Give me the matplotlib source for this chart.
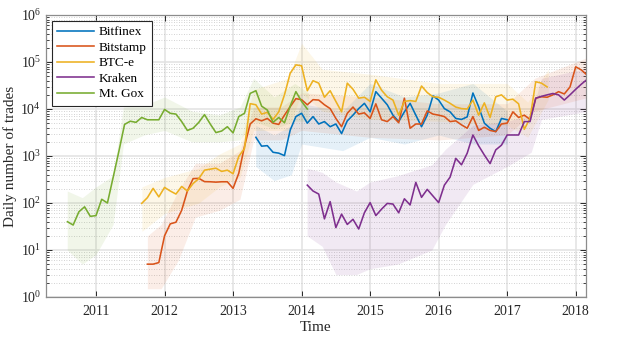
import numpy as np
import matplotlib
matplotlib.use('Agg')
import matplotlib.pyplot as plt
from matplotlib.ticker import NullFormatter, FixedLocator, LogFormatterMathtext

plt.rcParams['font.family'] = ['Liberation Serif', 'DejaVu Serif']
plt.rcParams['mathtext.fontset'] = 'custom'
plt.rcParams['mathtext.rm'] = 'Liberation Serif'
plt.rcParams['mathtext.it'] = 'Liberation Serif:italic'

# Monthly averages of daily trades (first value = start month)
bitfinex_start = (2013, 5)
bitfinex = [2500, 1620, 1660, 1200, 1150, 1020, 3550, 6900,
            8100, 5000, 6900, 4800, 5400, 4200, 4800, 3000, 5600, 7400, 10200, 13200,
            8700, 23400, 17000, 12300, 7400, 5400, 8700, 13200, 7400, 4200, 7400, 19000,
            15500, 10200, 8700, 6300, 6000, 6800, 21900, 11200, 5000, 3900, 3300, 6300,
            5900]

bitstamp_start = (2011, 10)
bitstamp = [5.0, 5.0, 5.4,
            20, 36, 39, 70, 180, 330, 335, 285, 283, 278, 283, 283,
            205, 430, 1600, 4800, 6200, 5600, 6300, 5000, 4700, 7400, 11200, 16600,
            15800, 12300, 15800, 15500, 12300, 10200, 6300, 4200, 8100, 11000, 7800, 8300,
            6300, 12900, 5900, 5400, 6900, 5100, 17000, 3900, 4800, 4800, 9100, 7800,
            7400, 6900, 5400, 5600, 4600, 3900, 6900, 3500, 4100, 3500, 3300, 4800,
            5000, 8700, 6600, 7400, 6000, 17000, 18200, 17800, 20000, 23400, 20900, 29500,
            79000, 67600, 52500]

btce_start = (2011, 9)
btce = [98, 130, 205, 135,
        215, 180, 155, 225, 180, 260, 330, 500, 525, 550, 470, 500,
        420, 980, 1450, 13000, 12300, 7800, 8500, 6000, 8700, 20000, 57500, 87000,
        83000, 24500, 40000, 35500, 17800, 24500, 14500, 8700, 35500, 26300, 17000, 17800,
        14500, 41700, 25100, 18200, 15500, 7400, 14500, 15100, 14500, 30900, 22400, 18200,
        17800, 15500, 13200, 11000, 10200, 10000, 15500, 7400, 13500, 6600, 18200, 20000,
        15500, 16200, 12900, 3700, 6300, 38000, 35500, 29500]

kraken_start = (2014, 2)
kraken = [240, 180, 155, 46, 107, 30, 58, 35, 45, 28, 62,
          102, 54, 74, 98, 95, 62, 123, 91, 275, 132, 195, 141,
          102, 240, 355, 890, 650, 1150, 2800, 1650, 1050, 690, 1350, 1700,
          2800, 2800, 2800, 5400, 5400, 17000, 18600, 20000, 21400, 20000, 15500, 20000,
          26300, 33900, 42700]

mtgox_start = (2010, 8)
mtgox = [40, 34, 65, 83, 52,
         54, 120, 100, 350, 1250, 4700, 5500, 5200, 6600, 5900, 5900, 5900,
         9800, 8100, 7800, 5400, 3500, 3900, 5200, 7600, 4800, 3150, 3400, 4200,
         3100, 6900, 8100, 21500, 24500, 11500, 9500, 5200, 6600, 5100, 11500, 23400,
         14500, 10000]

# Rough spread of the daily values (faint background)
bitfinex_band_t = [2013.33, 2013.6, 2013.85, 2014.0, 2014.6, 2015.0, 2015.5, 2016.0, 2016.5, 2017.0]
bitfinex_band_lo = [600, 300, 400, 1800, 1300, 2500, 1800, 2800, 1800, 1800]
bitfinex_band_hi = [4500, 2800, 4500, 13000, 9000, 35000, 18000, 22000, 35000, 9000]

bitstamp_band_t = [2011.75, 2011.95, 2012.2, 2012.45, 2012.8, 2013.1, 2013.3, 2013.7, 2014.0,
                   2015.0, 2016.0, 2017.0, 2017.4, 2018.2]
bitstamp_band_lo = [1.5, 1.5, 6, 50, 70, 120, 2200, 2200, 3500, 2500, 2200, 2800, 9000, 18000]
bitstamp_band_hi = [20, 35, 180, 700, 700, 1300, 11000, 11000, 22000, 18000, 13000, 13000, 45000, 130000]

btce_band_t = [2011.67, 2012.0, 2012.5, 2012.8, 2013.1, 2013.3, 2013.8, 2014.0, 2014.3,
               2015.0, 2016.0, 2017.0, 2017.3, 2017.6]
btce_band_lo = [25, 60, 100, 220, 350, 3500, 3500, 22000, 9000, 6000, 5500, 4500, 2500, 16000]
btce_band_hi = [220, 350, 550, 1100, 1800, 26000, 45000, 250000, 70000, 55000, 35000, 35000, 14000, 70000]

kraken_band_t = [2014.08, 2014.3, 2014.5, 2014.8, 2015.0, 2015.4, 2015.9, 2016.1, 2016.5,
                 2017.0, 2017.35, 2017.5, 2018.2]
kraken_band_lo = [20, 12, 3, 3, 4, 5, 10, 35, 250, 600, 1200, 6000, 9000]
kraken_band_hi = [550, 450, 280, 180, 280, 380, 650, 1400, 4500, 5500, 7500, 45000, 75000]

mtgox_band_t = [2010.58, 2010.8, 2011.0, 2011.25, 2011.4, 2011.7, 2012.0, 2012.4, 2012.8,
                2013.1, 2013.3, 2013.6, 2013.9, 2014.1]
mtgox_band_lo = [10, 5, 8, 35, 1800, 2800, 3500, 2000, 2000, 2200, 5500, 3800, 5500, 5500]
mtgox_band_hi = [180, 130, 220, 380, 11000, 12000, 18000, 9000, 7500, 11000, 45000, 18000, 35000, 22000]

years = [2011, 2012, 2013, 2014, 2015, 2016, 2017, 2018]
decades = [1e0, 1e1, 1e2, 1e3, 1e4, 1e5, 1e6]


def month_axis(start, n):
    return start[0] + (start[1] - 1) / 12 + np.arange(n) / 12


series = [
    ('Bitfinex', '#0072BD', bitfinex_start, bitfinex, bitfinex_band_t, bitfinex_band_lo, bitfinex_band_hi),
    ('Bitstamp', '#D95319', bitstamp_start, bitstamp, bitstamp_band_t, bitstamp_band_lo, bitstamp_band_hi),
    ('BTC-e', '#EDB120', btce_start, btce, btce_band_t, btce_band_lo, btce_band_hi),
    ('Kraken', '#7E2F8E', kraken_start, kraken, kraken_band_t, kraken_band_lo, kraken_band_hi),
    ('Mt. Gox', '#77AC30', mtgox_start, mtgox, mtgox_band_t, mtgox_band_lo, mtgox_band_hi),
]

fig = plt.figure(figsize=(6.23, 3.38), dpi=100)
ax = fig.add_axes([0.0738, 0.1213, 0.8668, 0.8343])

# faint daily spread
for name, col, start, vals, bt, blo, bhi in series:
    ax.fill_between(bt, blo, bhi, color=col, alpha=0.1, lw=0, zorder=1)

# monthly lines
for name, col, start, vals, bt, blo, bhi in series:
    x = month_axis(start, len(vals))
    ax.plot(x, vals, color=col, lw=1.15, label=name, zorder=3)

ax.set_yscale('log')
ax.set_ylim(1, 1e6)
ax.set_xlim(2010.27, 2018.15)

ax.xaxis.set_major_locator(FixedLocator(years))
ax.set_xticklabels([str(y) for y in years])
minors = [d * k for d in decades[:-1] for k in range(2, 10)]
ax.yaxis.set_major_locator(FixedLocator(decades))
ax.yaxis.set_minor_locator(FixedLocator(minors))
ax.yaxis.set_minor_formatter(NullFormatter())
ax.yaxis.set_major_formatter(LogFormatterMathtext())

ax.grid(True, which='major', color='#e2e2e2', lw=1.1, zorder=0)
ax.grid(True, which='minor', axis='y', color='#c4c4c4', lw=0.6, linestyle=(0, (1, 2)), zorder=0)
ax.set_axisbelow(True)

ax.tick_params(which='both', direction='in', top=True, right=True, colors='#262626',
               labelsize=10)
ax.tick_params(axis='x', which='major', pad=6)
ax.tick_params(which='major', length=4, width=0.7)
ax.tick_params(which='minor', length=2.2, width=0.6)
for s in ax.spines.values():
    s.set_color('#8c8c8c')
    s.set_linewidth(0.9)

ax.set_xlabel('Time', fontsize=11, color='#262626')
ax.set_ylabel('Daily number of trades', fontsize=11, color='#262626')
ax.xaxis.set_label_coords(0.5, -0.084)
ax.yaxis.set_label_coords(-0.053, 0.5)

leg = ax.legend(loc='upper left', bbox_to_anchor=(0.0106, 0.98), borderaxespad=0,
                fontsize=9.5, frameon=True, fancybox=False, framealpha=1,
                edgecolor='#262626', handlelength=2.8, handletextpad=0.35,
                labelspacing=0.25, borderpad=0.4)
leg.get_frame().set_linewidth(0.8)

fig.savefig('out.png', dpi=100)
